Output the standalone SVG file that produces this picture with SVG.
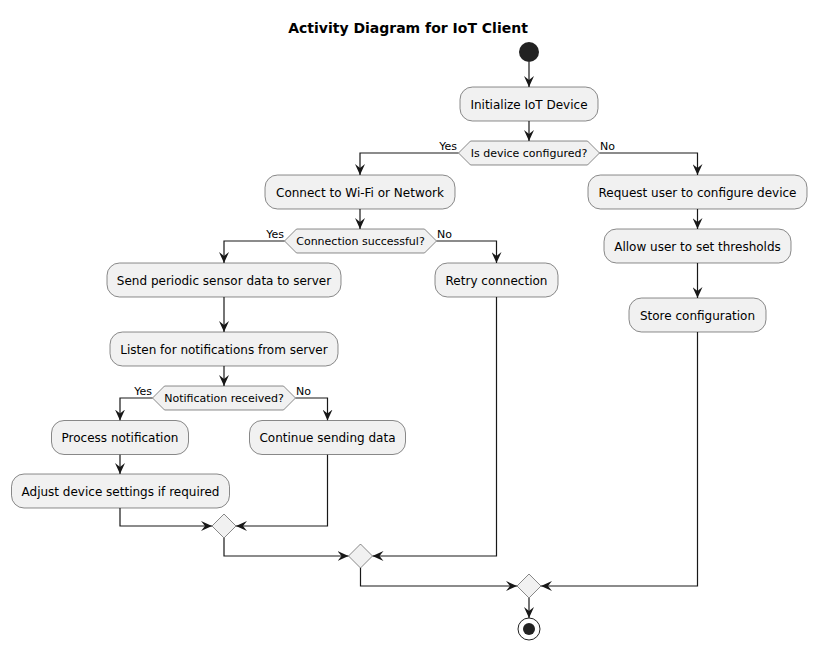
<svg xmlns="http://www.w3.org/2000/svg" width="816" height="650" viewBox="0 0 816 650">
<style>
text{font-family:"DejaVu Sans","Liberation Sans",sans-serif;fill:#000}
.t{font-size:14px;font-weight:bold;text-anchor:middle}
.a{font-size:12px;text-anchor:middle}
.d{font-size:11px;text-anchor:middle}
.l{font-size:11px}
.box{fill:#F1F1F1;stroke:#181818;stroke-width:0.5}
.ln{fill:none;stroke:#181818;stroke-width:1.2}
</style>
<defs>
<marker id="ah" viewBox="0 0 11 10" refX="11" refY="5" markerWidth="11" markerHeight="10" markerUnits="userSpaceOnUse" orient="auto">
<path d="M0,0 L11,5 L0,10 L4,5 Z" fill="#181818"/>
</marker>
</defs>
<rect width="816" height="650" fill="#FFFFFF"/>
<text class="t" x="408" y="33">Activity Diagram for IoT Client</text>

<g id="connectors">
<path class="ln" d="M529,62 V87" marker-end="url(#ah)"/>
<path class="ln" d="M529,121 V141" marker-end="url(#ah)"/>
<path class="ln" d="M458.5,153 H360 V175" marker-end="url(#ah)"/>
<path class="ln" d="M599.5,153 H697.5 V175" marker-end="url(#ah)"/>
<path class="ln" d="M360,209 V229" marker-end="url(#ah)"/>
<path class="ln" d="M284.5,241 H224 V263" marker-end="url(#ah)"/>
<path class="ln" d="M436.5,241 H496.5 V263" marker-end="url(#ah)"/>
<path class="ln" d="M224,297 V332" marker-end="url(#ah)"/>
<path class="ln" d="M224,366 V386" marker-end="url(#ah)"/>
<path class="ln" d="M152.5,398 H120 V420.5" marker-end="url(#ah)"/>
<path class="ln" d="M295.5,398 H327.5 V420.5" marker-end="url(#ah)"/>
<path class="ln" d="M120,454.5 V474" marker-end="url(#ah)"/>
<path class="ln" d="M120,508 V526 H212" marker-end="url(#ah)"/>
<path class="ln" d="M327.5,454.5 V526 H236" marker-end="url(#ah)"/>
<path class="ln" d="M224,538 V556 H348.5" marker-end="url(#ah)"/>
<path class="ln" d="M496.5,297 V556 H372.5" marker-end="url(#ah)"/>
<path class="ln" d="M697.5,209 V229" marker-end="url(#ah)"/>
<path class="ln" d="M697.5,263 V298" marker-end="url(#ah)"/>
<path class="ln" d="M360.5,568 V586 H517" marker-end="url(#ah)"/>
<path class="ln" d="M697.5,332 V586 H541" marker-end="url(#ah)"/>
<path class="ln" d="M529,598 V618" marker-end="url(#ah)"/>
<text class="l" x="457" y="150" text-anchor="end">Yes</text>
<text class="l" x="600" y="150">No</text>
<text class="l" x="284" y="238" text-anchor="end">Yes</text>
<text class="l" x="437" y="238">No</text>
<text class="l" x="152" y="395" text-anchor="end">Yes</text>
<text class="l" x="296" y="395">No</text>
</g>

<g id="start"><circle cx="529" cy="52" r="10" fill="#222222"/></g>

<g id="init"><rect class="box" x="460" y="87" width="138" height="34" rx="12.5"/><text class="a" x="529" y="108.5">Initialize IoT Device</text></g>

<g id="dec-configured"><polygon class="box" points="458.5,153 470.5,141 587.5,141 599.5,153 587.5,165 470.5,165"/><text class="d" x="529" y="157">Is device configured?</text></g>

<g id="connect"><rect class="box" x="265" y="175" width="190" height="34" rx="12.5"/><text class="a" x="360" y="196.5">Connect to Wi-Fi or Network</text></g>

<g id="request"><rect class="box" x="588" y="175" width="219" height="34" rx="12.5"/><text class="a" x="697.5" y="196.5">Request user to configure device</text></g>

<g id="dec-connection"><polygon class="box" points="284.5,241 296.5,229 424.5,229 436.5,241 424.5,253 296.5,253"/><text class="d" x="360.5" y="245">Connection successful?</text></g>

<g id="send"><rect class="box" x="107" y="263" width="234" height="34" rx="12.5"/><text class="a" x="224" y="284.5">Send periodic sensor data to server</text></g>

<g id="retry"><rect class="box" x="435" y="263" width="123" height="34" rx="12.5"/><text class="a" x="496.5" y="284.5">Retry connection</text></g>

<g id="allow"><rect class="box" x="604" y="229" width="187" height="34" rx="12.5"/><text class="a" x="697.5" y="250.5">Allow user to set thresholds</text></g>

<g id="store"><rect class="box" x="629" y="298" width="137" height="34" rx="12.5"/><text class="a" x="697.5" y="319.5">Store configuration</text></g>

<g id="listen"><rect class="box" x="110" y="332" width="228" height="34" rx="12.5"/><text class="a" x="224" y="353.5">Listen for notifications from server</text></g>

<g id="dec-notification"><polygon class="box" points="152.5,398 164.5,386 283.5,386 295.5,398 283.5,410 164.5,410"/><text class="d" x="224" y="402">Notification received?</text></g>

<g id="process"><rect class="box" x="51.5" y="420.5" width="137" height="34" rx="12.5"/><text class="a" x="120" y="442">Process notification</text></g>

<g id="continue"><rect class="box" x="249.5" y="420.5" width="156" height="34" rx="12.5"/><text class="a" x="327.5" y="442">Continue sending data</text></g>

<g id="adjust"><rect class="box" x="11.5" y="474" width="218" height="34" rx="12.5"/><text class="a" x="120.5" y="495.5">Adjust device settings if required</text></g>

<g id="merge1"><polygon class="box" points="224,514 236,526 224,538 212,526"/></g>
<g id="merge2"><polygon class="box" points="360.5,544 372.5,556 360.5,568 348.5,556"/></g>
<g id="merge3"><polygon class="box" points="529,574 541,586 529,598 517,586"/></g>

<g id="end"><circle cx="529" cy="629" r="11" fill="none" stroke="#222222" stroke-width="1"/><circle cx="529" cy="629" r="6" fill="#222222"/></g>
</svg>
